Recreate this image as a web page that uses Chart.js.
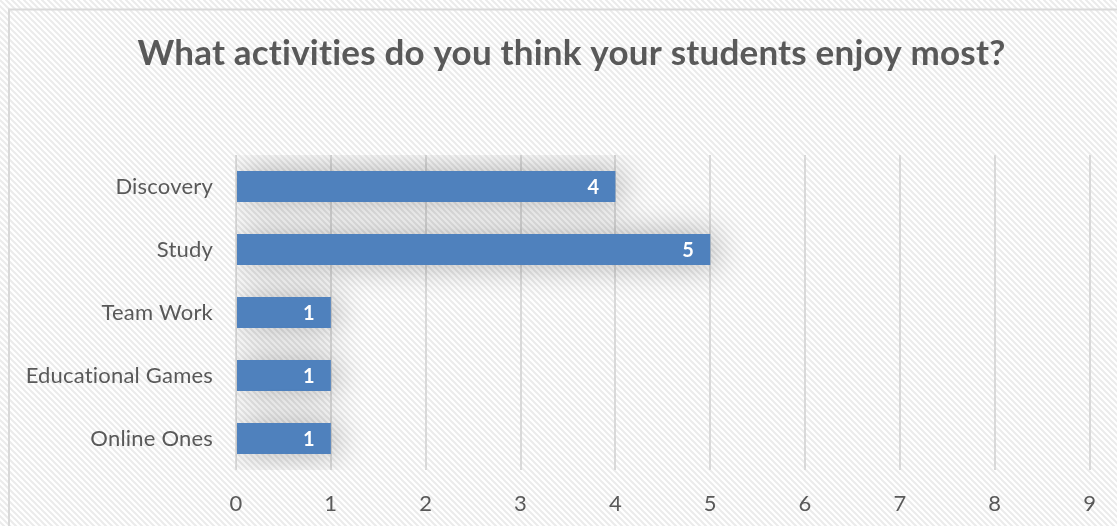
<!DOCTYPE html>
<html>
<head>
<meta charset="utf-8">
<title>Activities</title>
<script src="https://cdn.jsdelivr.net/npm/chart.js@4"></script>
<style>
  html, body { margin: 0; padding: 0; background: #fff; }
  #wrap { position: relative; width: 1117px; height: 526px; }
</style>
</head>
<body>
<div id="wrap"><canvas id="myChart" width="1117" height="526"></canvas></div>
<script>
/*////////////////////////////////// DATA //////////////////////////////////*/
const activities = ['Discovery', 'Study', 'Team Work', 'Educational Games', 'Online Ones'];
const answers = [4, 5, 1, 1, 1];
const xMin = 0;
const xMax = 9;

const FONT = 'Lato, "Open Sans", sans-serif';
const GREY = '#595959';

/*////////////////////////////////// PLUGINS //////////////////////////////////*/
// striped background + thin frame
const backdrop = {
    id: 'backdrop',
    afterLayout(chart) {
        // the frame runs past the right edge, so centre the title on it
        if (chart.titleBlock) {
            chart.titleBlock.left += 25;
            chart.titleBlock.right += 25;
        }
    },
    beforeDraw(chart) {
        const ctx = chart.ctx;
        // a little letter spacing keeps Lato from joining "ti" into a ligature
        ctx.letterSpacing = '0.2px';
        const tile = document.createElement('canvas');
        tile.width = 6; tile.height = 6;
        const t = tile.getContext('2d');
        t.fillStyle = '#ffffff';
        t.fillRect(0, 0, 6, 6);
        t.strokeStyle = '#ebebeb';
        t.lineWidth = 2;
        t.beginPath();
        t.moveTo(-1, -1); t.lineTo(7, 7);
        t.moveTo(-4, 2); t.lineTo(2, 8);
        t.moveTo(2, -4); t.lineTo(8, 2);
        t.stroke();
        ctx.save();
        ctx.fillStyle = ctx.createPattern(tile, 'repeat');
        ctx.fillRect(0, 0, chart.width, chart.height);
        ctx.strokeStyle = '#d9d9d9';
        ctx.lineWidth = 2;
        ctx.strokeRect(9, 9.5, chart.width + 20, chart.height + 20);
        ctx.restore();
    }
};

// soft shadow behind the bars
const barShadow = {
    id: 'barShadow',
    beforeDatasetsDraw(chart) {
        const ctx = chart.ctx;
        ctx.save();
        ctx.shadowColor = 'rgba(0, 0, 0, 0.3)';
        ctx.shadowBlur = 32;
        ctx.shadowOffsetX = 5;
        ctx.shadowOffsetY = 0;
    },
    afterDatasetsDraw(chart) {
        chart.ctx.restore();
    }
};

// white value labels at the end of each bar
const valueLabels = {
    id: 'valueLabels',
    afterDatasetsDraw(chart) {
        const ctx = chart.ctx;
        const meta = chart.getDatasetMeta(0);
        ctx.save();
        ctx.fillStyle = '#ffffff';
        ctx.font = 'bold 20px ' + FONT;
        ctx.textAlign = 'center';
        ctx.textBaseline = 'middle';
        meta.data.forEach((bar, i) => {
            ctx.fillText(String(answers[i]), bar.x - 22, bar.y + 1);
        });
        ctx.restore();
    }
};

/*////////////////////////////////// CHART //////////////////////////////////*/
const ctx = document.getElementById('myChart').getContext('2d');
const myChart = new Chart(ctx, {
    type: 'bar',
    data: {
        labels: activities,
        datasets: [{
            data: answers,
            backgroundColor: '#4f81bd',
            borderWidth: 0,
            categoryPercentage: 1,
            barPercentage: 0.49
        }]
    },
    plugins: [backdrop, barShadow, valueLabels],
    options: {
        indexAxis: 'y',
        responsive: false,
        animation: false,
        layout: { padding: { left: 0, right: 24, top: 0, bottom: 0 } },
        plugins: {
            legend: { display: false },
            tooltip: { enabled: false },
            title: {
                display: true,
                text: 'What activities do you think your students enjoy most?',
                color: GREY,
                font: { family: FONT, size: 35, weight: 'bold' },
                padding: { top: 33, bottom: 80 }
            }
        },
        scales: {
            x: {
                min: xMin,
                max: xMax,
                ticks: {
                    stepSize: 1,
                    color: GREY,
                    font: { family: FONT, size: 22 },
                    padding: 21
                },
                grid: { color: '#d9d9d9', lineWidth: 2, drawTicks: false },
                border: { display: false },
                afterFit(scale) { scale.height = 56; }
            },
            y: {
                ticks: {
                    color: GREY,
                    font: { family: FONT, size: 22 },
                    padding: 15
                },
                grid: { display: false },
                border: { display: false },
                afterFit(scale) { scale.width = 236; }
            }
        }
    }
});
</script>
</body>
</html>
